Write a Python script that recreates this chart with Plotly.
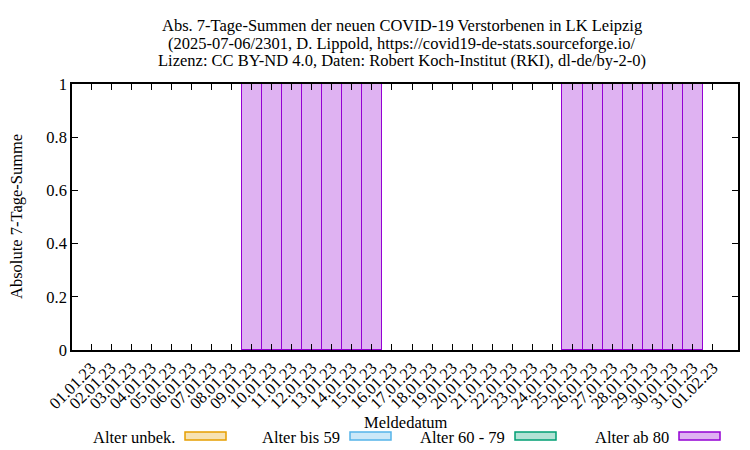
import plotly.graph_objects as go

dates = ["2023-01-%02d" % d for d in range(1, 32)] + ["2023-02-01"]
tick_dates = dates

series_names = ["Alter unbek.", "Alter bis 59", "Alter 60 - 79", "Alter ab 80"]
val_unbek = [0] * 32
val_bis59 = [0] * 32
val_60_79 = [0] * 32
val_ab80 = [0, 0, 0, 0, 0, 0, 0, 0, 1, 1, 1, 1, 1, 1, 1, 0,
            0, 0, 0, 0, 0, 0, 0, 0, 1, 1, 1, 1, 1, 1, 1, 0]

edge_colors = ["#E69F00", "#56B4E9", "#009E73", "#9400D3"]
fill_colors = ["rgba(230,159,0,0.3)", "rgba(86,180,233,0.3)",
               "rgba(0,158,115,0.3)", "rgba(148,0,211,0.3)"]

title_lines = [
    "Abs. 7-Tage-Summen der neuen COVID-19 Verstorbenen in LK Leipzig",
    "(2025-07-06/2301, D. Lippold, https://covid19-de-stats.sourceforge.io/",
    "Lizenz: CC BY-ND 4.0, Daten: Robert Koch-Institut (RKI), dl-de/by-2-0)",
]

FONT = "Liberation Serif"
FS = 16.5
DAY = 86400000
OFF = 8                      # page body margin in the browser
W, H = 750 - OFF, 450 - OFF
L, R, T, B = 72, 738, 84, 350   # plot area in page pixels


def px(x):
    return (x - L) / (R - L)


def py(y):
    return (B - y) / (B - T)


fig = go.Figure()
for name, vals, ec, fc in zip(series_names, [val_unbek, val_bis59, val_60_79, val_ab80],
                              edge_colors, fill_colors):
    lw = [1.5 if v > 0 else 0 for v in vals]
    fig.add_trace(go.Bar(x=dates, y=vals, name=name, width=DAY,
                         marker=dict(color=fc, line=dict(color=ec, width=lw)),
                         showlegend=False))

# legend drawn by hand: text left of the sample box (gnuplot style)
box_left = [185, 350, 515, 679]
annotations = []
shapes = []
for name, ec, fc, bl in zip(series_names, edge_colors, fill_colors, box_left):
    shapes.append(dict(type="rect", xref="paper", yref="paper",
                       x0=px(bl), x1=px(bl + 41), y0=py(440), y1=py(432),
                       fillcolor=fc, line=dict(color=ec, width=1.5)))
    annotations.append(dict(text=name, xref="paper", yref="paper",
                            x=px(bl - 8), y=py(437),
                            xanchor="right", yanchor="middle", showarrow=False))

for line, yc in zip(title_lines, [26, 43, 60]):
    annotations.append(dict(text=line, xref="paper", yref="paper",
                            x=px(402), y=py(yc), xanchor="center", yanchor="middle",
                            showarrow=False))
annotations.append(dict(text="Meldedatum", xref="paper", yref="paper",
                        x=px(406), y=py(422), xanchor="center",
                        yanchor="middle", showarrow=False))
annotations.append(dict(text="Absolute 7-Tage-Summe", xref="paper", yref="paper",
                        x=px(16), y=py(217), xanchor="center", yanchor="middle",
                        textangle=-90, showarrow=False))

fig.update_layout(
    width=W, height=H,
    margin=dict(l=L - OFF, r=W - (R - OFF), t=T - OFF, b=H - (B - OFF)),
    paper_bgcolor="white", plot_bgcolor="white",
    barmode="stack", bargap=0,
    font=dict(family=FONT, size=FS, color="black"),
    annotations=annotations, shapes=shapes,
    xaxis=dict(type="date", range=["2022-12-31 01:12", "2023-02-02 06:00"],
               tickvals=tick_dates, tickformat="%d.%m.%y", tickangle=-45,
               ticks="inside", ticklen=6, tickcolor="black", mirror="allticks",
               showline=True, linecolor="black", linewidth=1.5, showgrid=False,
               automargin=False),
    yaxis=dict(range=[0, 1], dtick=0.2, ticks="inside", ticklen=6, tickcolor="black",
               mirror="allticks", showline=True, linecolor="black", linewidth=1.5,
               showgrid=False, zeroline=False, automargin=False),
)

fig.write_html("out.html")
